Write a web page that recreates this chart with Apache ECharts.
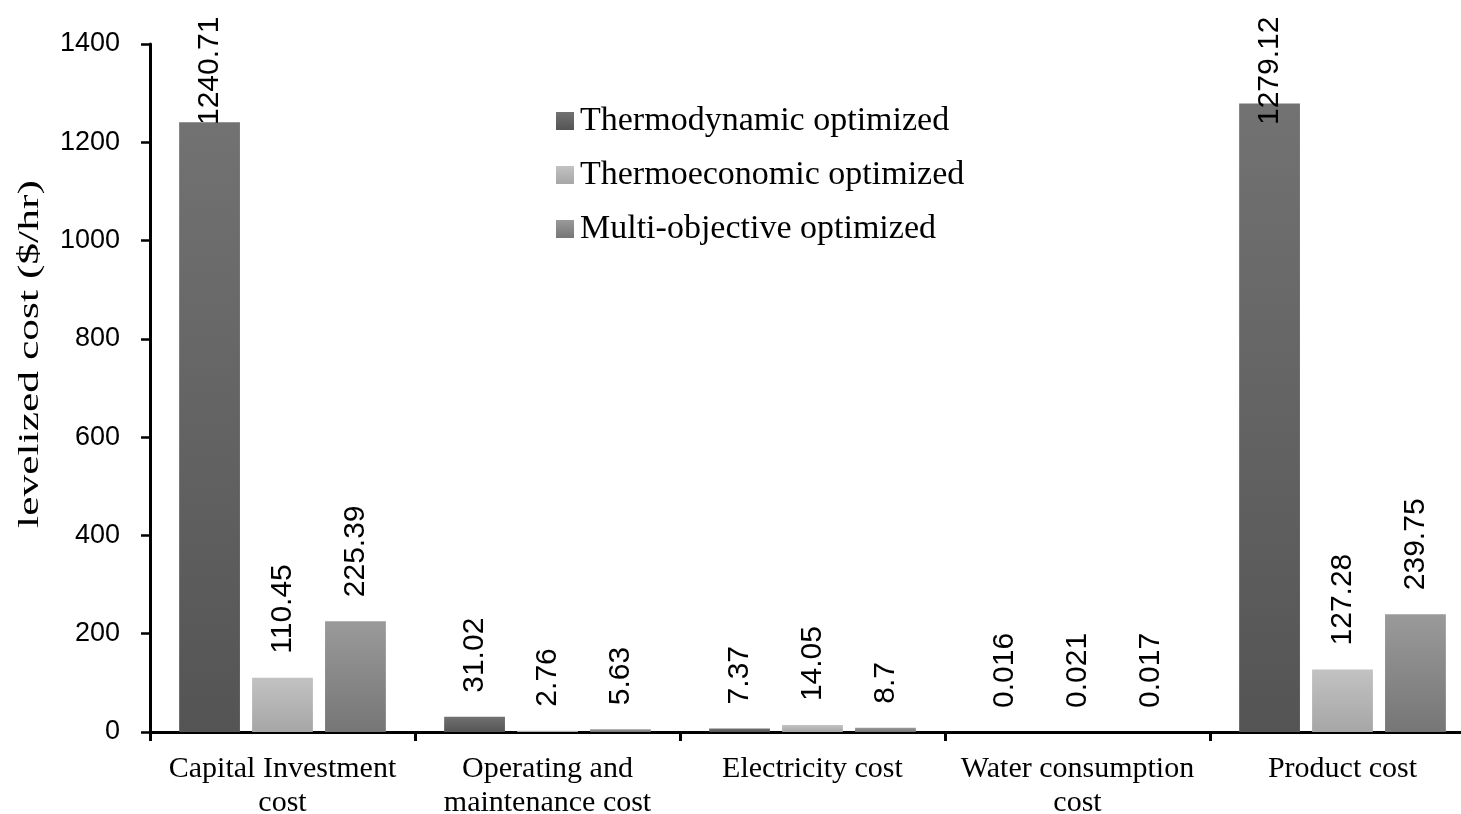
<!DOCTYPE html>
<html>
<head>
<meta charset="utf-8">
<script src="https://cdn.jsdelivr.net/npm/echarts@6/dist/echarts.min.js"></script>
<style>
html,body{margin:0;padding:0;background:#fff;}
#main{width:1461px;height:814px;}
</style>
</head>
<body>
<div id="main"></div>
<script>
const categories = ['Capital Investment\ncost', 'Operating and\nmaintenance cost', 'Electricity cost', 'Water consumption\ncost', 'Product cost'];
const seriesNames = ['Thermodynamic optimized', 'Thermoeconomic optimized', 'Multi-objective optimized'];
const thermodynamic = [1240.71, 31.02, 7.37, 0.016, 1279.12];
const thermoeconomic = [110.45, 2.76, 14.05, 0.021, 127.28];
const multiObjective = [225.39, 5.63, 8.7, 0.017, 239.75];
const yTicks = { min: 0, max: 1400, interval: 200 };

const chart = echarts.init(document.getElementById('main'), null, { renderer: 'canvas' });

const NUM_FONT = '"Liberation Sans Narrow", "Liberation Sans", Arial, sans-serif';
const SERIF = '"Liberation Serif", "Times New Roman", serif';

function grad(top, bottom) {
  return new echarts.graphic.LinearGradient(0, 0, 0, 1, [
    { offset: 0, color: top }, { offset: 1, color: bottom }
  ]);
}
const colors = [grad('#727272', '#545454'), grad('#c2c2c2', '#a6a6a6'), grad('#9a9a9a', '#767676')];
const dataSets = [thermodynamic, thermoeconomic, multiObjective];

function baseLabel() {
  return {
    show: true, position: 'top', rotate: 90, align: 'left', verticalAlign: 'middle',
    distance: 24, color: '#000', fontFamily: NUM_FONT, fontSize: 30,
    formatter: p => String(p.value)
  };
}

function buildSeries(labelOverrides) {
  return dataSets.map((arr, si) => ({
    name: seriesNames[si],
    type: 'bar',
    barGap: '20%',
    barCategoryGap: '22%',
    itemStyle: { color: colors[si] },
    label: baseLabel(),
    data: arr.map((v, di) => {
      const o = labelOverrides && labelOverrides[si] && labelOverrides[si][di];
      return o ? { value: v, label: o } : { value: v };
    })
  }));
}

const option = {
  animation: false,
  backgroundColor: '#fff',
  grid: { left: 150, top: 44, width: 1325, height: 688, containLabel: false, outerBoundsMode: 'none' },
  legend: {
    orient: 'vertical', left: 551, top: 99,
    itemWidth: 18, itemHeight: 18, itemGap: 20,
    icon: 'rect',
    textStyle: { fontFamily: SERIF, fontSize: 34, color: '#000', padding: [0, 0, 0, 1] },
    data: seriesNames
  },
  xAxis: {
    type: 'category', data: categories,
    axisLine: { lineStyle: { color: '#000', width: 3 } },
    axisTick: { show: true, length: 9, lineStyle: { color: '#000', width: 3 } },
    axisLabel: { color: '#000', fontFamily: SERIF, fontSize: 30, lineHeight: 34, margin: 20, interval: 0 },
    splitLine: { show: false }
  },
  yAxis: {
    type: 'value', min: yTicks.min, max: yTicks.max, interval: yTicks.interval,
    axisLine: { show: true, lineStyle: { color: '#000', width: 3 } },
    axisTick: { show: true, length: 9, lineStyle: { color: '#000', width: 2.5 } },
    axisLabel: { color: '#000', fontFamily: NUM_FONT, fontSize: 27, margin: 30, formatter: v => String(v) },
    splitLine: { show: false }
  },
  graphic: [{
    type: 'text', x: 30, y: 354, rotation: Math.PI / 2, scaleX: 1.45, scaleY: 1,
    style: { text: 'levelized cost ($/hr)', font: '30px ' + SERIF, fill: '#000', align: 'center', verticalAlign: 'middle' }
  }],
  series: buildSeries(null)
};
chart.setOption(option);

// labels that would run past the top of the plot are pulled down (ending at a fixed height)
const LABEL_END_Y = 125;
const overrides = dataSets.map((arr, si) => arr.map((v, di) => {
  const py = chart.convertToPixel({ yAxisIndex: 0 }, v);
  if (py - 24 - 105 < 15) {
    return Object.assign(baseLabel(), { distance: py - LABEL_END_Y });
  }
  return null;
}));
chart.setOption({ series: buildSeries(overrides) });
</script>
</body>
</html>
